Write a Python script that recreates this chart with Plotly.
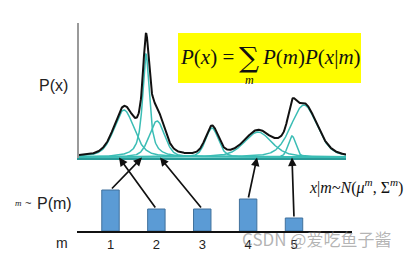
import numpy as np
import plotly.graph_objects as go

# ---- data ----
# mixture components (x position, peak height, full width at half max, lorentz share)
comp_mu = [45, 67, 78, 133, 179, 213, 225]
comp_h = [47, 103, 36, 29, 25, 21, 52]
comp_fwhm = [24, 8, 18, 15, 32, 9, 31]
comp_eta = [0.4, 0.9, 0.3, 0.3, 0.4, 0.2, 0.3]

# prior P(m)
m_labels = ["1", "2", "3", "4", "5"]
m_pos = [1, 2, 3, 4, 5]
p_m = [41, 22, 22, 32, 13]

# which x each m arrow points at
arrow_targets = [63, 40, 81, 178, 213]

TEAL = "#3bbdb5"
BASE = "#2a9a98"
W, H = 418, 257

# axis geometry (pixels)
X1_PIX, X1_RANGE = (79, 346), (0, 267)
Y1_PIX, Y1_RANGE = (158, 23), (-1, 134)
X2_PIX, X2_RANGE = (77, 352), (0.27, 6.264)
Y2_PIX, Y2_RANGE = (231, 185), (0, 46)


def lin(v, rng, pix):
    return pix[0] + (v - rng[0]) / (rng[1] - rng[0]) * (pix[1] - pix[0])


def comp_curve(x, mu, h, f, eta):
    d2 = (x - mu) ** 2
    g = np.exp(-4 * np.log(2) * d2 / f ** 2)
    lor = 1.0 / (1.0 + 4 * d2 / f ** 2)
    return h * (eta * lor + (1 - eta) * g)


xs = np.linspace(X1_RANGE[0], X1_RANGE[1], 700)
comps = [comp_curve(xs, mu, h, f, e) for mu, h, f, e in zip(comp_mu, comp_h, comp_fwhm, comp_eta)]
total = np.sum(comps, axis=0)

fig = go.Figure()
for c in comps:
    fig.add_trace(go.Scatter(x=xs, y=c, mode="lines", line=dict(color=TEAL, width=1.5),
                             xaxis="x", yaxis="y", hoverinfo="skip"))
fig.add_trace(go.Scatter(x=xs, y=total, mode="lines", line=dict(color="#111111", width=2),
                         xaxis="x", yaxis="y", hoverinfo="skip"))

fig.add_trace(go.Bar(x=m_pos, y=p_m, width=0.38, xaxis="x2", yaxis="y2",
                     marker=dict(color="#5b9bd5", line=dict(color="#41719c", width=1))))

fig.update_layout(
    width=W, height=H, margin=dict(l=0, r=0, t=0, b=0),
    paper_bgcolor="white", plot_bgcolor="rgba(0,0,0,0)", showlegend=False,
    xaxis=dict(domain=[X1_PIX[0] / W, X1_PIX[1] / W], range=list(X1_RANGE), showline=True,
               linecolor=BASE, linewidth=2, showticklabels=False, showgrid=False,
               zeroline=False, ticks="", anchor="y"),
    yaxis=dict(domain=[(H - Y1_PIX[0]) / H, (H - Y1_PIX[1]) / H], range=list(Y1_RANGE),
               showline=True, linecolor="#9a9a9a", linewidth=1.5, showticklabels=False,
               showgrid=False, zeroline=False, ticks="", anchor="x"),
    xaxis2=dict(domain=[X2_PIX[0] / W, X2_PIX[1] / W], range=list(X2_RANGE), showline=True,
                linecolor="#111111", linewidth=2, tickvals=m_pos, ticktext=m_labels,
                tickfont=dict(family="Liberation Sans", size=13, color="#222222"),
                showgrid=False, zeroline=False, ticks="", anchor="y2"),
    yaxis2=dict(domain=[(H - Y2_PIX[0]) / H, (H - Y2_PIX[1]) / H], range=list(Y2_RANGE),
                visible=False, anchor="x2"),
)

# yellow formula box
fig.add_shape(type="rect", xref="paper", yref="paper",
              x0=178 / W, x1=361 / W, y0=(H - 83) / H, y1=(H - 33) / H,
              fillcolor="#ffff00", line=dict(width=0), layer="above")

ann = []
serif = "Liberation Serif"


def txt(x, y, s, size, family="Liberation Sans", color="#222222", xanchor="center"):
    ann.append(dict(xref="paper", yref="paper", x=x / W, y=(H - y) / H, text=s,
                    showarrow=False, xanchor=xanchor, yanchor="middle",
                    font=dict(family=family, size=size, color=color)))


txt(207, 57, "<i>P</i>(<i>x</i>) =", 21, serif, "#111111")
txt(249, 57, "∑", 28, "DejaVu Serif", "#111111")
txt(249, 80, "<i>m</i>", 12, serif, "#111111")
txt(311, 57, "<i>P</i>(<i>m</i>)<i>P</i>(<i>x</i>|<i>m</i>)", 21, serif, "#111111")

txt(53, 85, "P(x)", 16)
txt(18, 203, "<i>m</i>", 9, serif)
txt(28, 203, "~", 11)
txt(54, 203, "P(m)", 16)
txt(62, 243, "m", 14)
txt(356, 186, "<i>x</i>|<i>m</i>~<i>N</i>(<i>μ</i><sup><i>m</i></sup>, Σ<sup><i>m</i></sup>)", 16, serif, "#111111")

# arrows from each prior bar to its component
for xm, pv, tx in zip(m_pos, p_m, arrow_targets):
    hx = lin(tx, X1_RANGE, X1_PIX)
    hy = lin(-0.5, Y1_RANGE, Y1_PIX)
    tx_ = lin(xm, X2_RANGE, X2_PIX)
    ty_ = lin(pv, Y2_RANGE, Y2_PIX)
    ann.append(dict(x=hx / W, y=(H - hy) / H, xref="paper", yref="paper",
                    ax=tx_ - hx, ay=ty_ - hy, axref="pixel", ayref="pixel",
                    text="", showarrow=True, arrowhead=2, arrowsize=1, arrowwidth=1.7,
                    arrowcolor="#111111", standoff=0, startstandoff=0))

# watermark
txt(316, 238, "CSDN @爱吃鱼子酱", 17, "Noto Sans CJK SC", "rgba(130,130,130,0.6)")

fig.update_layout(annotations=ann)
fig.write_html("out.html")
